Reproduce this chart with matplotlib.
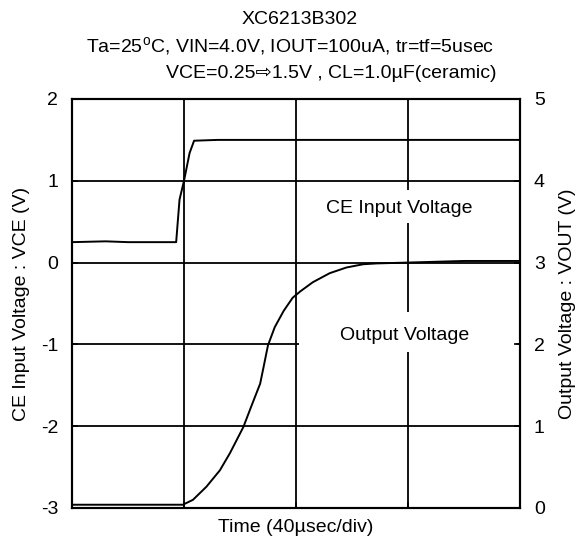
import matplotlib
matplotlib.use("Agg")
import matplotlib.pyplot as plt
from matplotlib.patches import Rectangle

plt.rcParams['font.family'] = ['Liberation Sans', 'DejaVu Sans']
plt.rcParams['mathtext.fontset'] = 'custom'
plt.rcParams['mathtext.rm'] = 'Liberation Sans'
plt.rcParams['axes.unicode_minus'] = False

FS = 14

# time in divisions (40 usec/div)
ce_time = [0.0, 0.30, 0.50, 0.93, 0.96, 1.00, 1.05, 1.09, 1.30, 2.00, 3.00, 4.00]
ce_volt = [0.25, 0.26, 0.25, 0.25, 0.77, 1.00, 1.34, 1.49, 1.50, 1.50, 1.50, 1.50]

out_time = [0.0, 0.50, 0.99, 1.08, 1.20, 1.32, 1.41, 1.53, 1.60, 1.68, 1.71,
            1.75, 1.81, 1.89, 1.97, 2.04, 2.15, 2.30, 2.45, 2.60, 2.72, 2.99,
            3.50, 4.00]
out_volt = [0.04, 0.04, 0.04, 0.10, 0.26, 0.46, 0.67, 0.99, 1.24, 1.52, 1.72,
            1.99, 2.21, 2.41, 2.57, 2.65, 2.76, 2.87, 2.94, 2.98, 2.99, 3.00,
            3.02, 3.02]

left_ticks = [-3, -2, -1, 0, 1, 2]
right_ticks = [0, 1, 2, 3, 4, 5]

fig = plt.figure(figsize=(5.81, 5.47), dpi=100)
ax = fig.add_axes([72 / 581, 39 / 547, 448 / 581, 409 / 547])
ax2 = ax.twinx()

ax.set_xlim(0, 4)
ax.set_ylim(-3, 2)
ax2.set_ylim(0, 5)
ax.set_xticks([0, 1, 2, 3, 4])
ax.set_xticklabels([])
ax.set_yticks(left_ticks)
ax2.set_yticks(right_ticks)

for a in (ax, ax2):
    a.tick_params(direction='in', length=4, width=1.2, labelsize=FS, pad=10)
    for s in a.spines.values():
        s.set_linewidth(1.5)

ax.grid(True, color='black', linewidth=1.3, zorder=1)
ax.set_axisbelow(True)

# white boxes behind the curve names
ax.add_patch(Rectangle((2.75, 0.49), 1.1, 0.40, facecolor='white',
                       edgecolor='none', zorder=2))
ax.add_patch(Rectangle((2.03, -1.09), 1.93, 0.49, facecolor='white',
                       edgecolor='none', zorder=2))

ax.plot(ce_time, ce_volt, color='black', linewidth=1.4, zorder=3)
ax2.plot(out_time, out_volt, color='black', linewidth=1.4, zorder=3)

ax.text(2.92, 0.66, 'CE Input Voltage', fontsize=FS, ha='center', va='center', zorder=4)
ax.text(2.97, -0.89, 'Output Voltage', fontsize=FS, ha='center', va='center', zorder=4)

ax.set_ylabel('CE Input Voltage : VCE (V)', fontsize=FS)
ax.yaxis.set_label_coords(-0.094, 0.5)
ax2.set_ylabel('Output Voltage : VOUT (V)', fontsize=FS)
ax2.yaxis.set_label_coords(1.087, 0.5)
ax.set_xlabel('Time (40\u00b5sec/div)', fontsize=FS)
ax.xaxis.set_label_coords(0.5, -0.027)

fig.text(300 / 581, 1 - 19 / 547, 'XC6213B302', fontsize=FS, ha='center', va='center')
fig.text(290 / 581, 1 - 47 / 547, 'Ta=25$^{\\mathrm{o}}$C, VIN=4.0V, IOUT=100uA, tr=tf=5usec',
         fontsize=FS, ha='center', va='center')
fig.text(331 / 581, 1 - 73 / 547, 'VCE=0.25\u21e81.5V , CL=1.0\u00b5F(ceramic)',
         fontsize=FS, ha='center', va='center')

fig.savefig('out.png', dpi=100)
